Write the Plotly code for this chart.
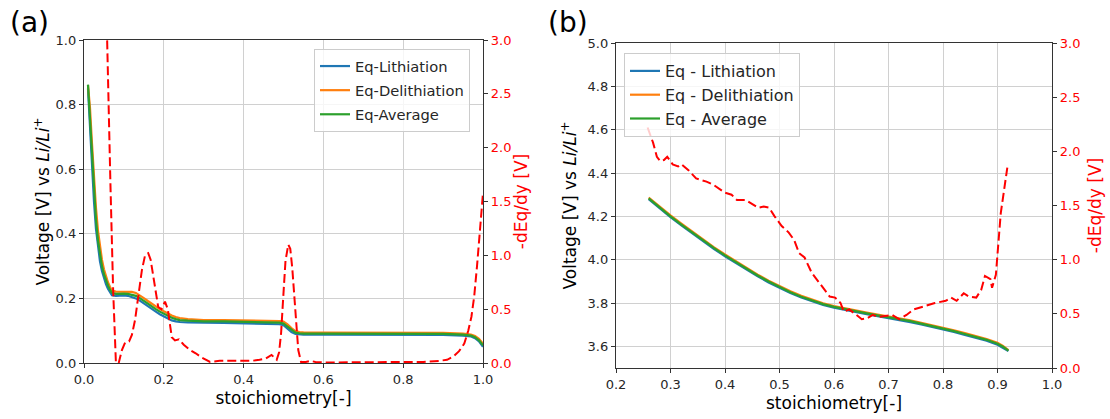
import plotly.graph_objects as go

# ---------------- Panel (a) data ----------------
x_a = [0.010, 0.015, 0.020, 0.025, 0.030, 0.035, 0.040, 0.045, 0.050, 0.055, 0.060, 0.065, 0.070,
       0.08, 0.09, 0.10, 0.11, 0.12, 0.13, 0.14, 0.15, 0.16, 0.17, 0.18, 0.19, 0.20, 0.21, 0.22, 0.23, 0.24,
       0.26, 0.28, 0.30, 0.35, 0.40, 0.45, 0.48, 0.49,
       0.50, 0.51, 0.52, 0.53, 0.54, 0.55, 0.60, 0.70, 0.80, 0.90,
       0.95, 0.97, 0.98, 0.99, 1.00]
lith_a = [0.850, 0.730, 0.600, 0.500, 0.415, 0.355, 0.315, 0.285, 0.262, 0.244, 0.230, 0.219, 0.210,
          0.208, 0.209, 0.209, 0.208, 0.205, 0.200, 0.193, 0.184, 0.175, 0.167, 0.159, 0.151, 0.144, 0.138, 0.132, 0.129, 0.127,
          0.126, 0.125, 0.125, 0.124, 0.123, 0.122, 0.121, 0.120,
          0.117, 0.106, 0.096, 0.090, 0.088, 0.088, 0.088, 0.088, 0.088, 0.087,
          0.085, 0.082, 0.077, 0.067, 0.050]
delith_a = [0.860, 0.790, 0.680, 0.570, 0.480, 0.410, 0.360, 0.320, 0.290, 0.267, 0.250, 0.236, 0.224,
            0.221, 0.221, 0.221, 0.221, 0.220, 0.217, 0.210, 0.201, 0.192, 0.183, 0.175, 0.167, 0.160, 0.153, 0.147, 0.142, 0.139,
            0.136, 0.134, 0.133, 0.133, 0.132, 0.131, 0.131, 0.130,
            0.128, 0.120, 0.108, 0.099, 0.096, 0.095, 0.094, 0.094, 0.094, 0.093,
            0.091, 0.088, 0.084, 0.075, 0.060]
avg_a = [0.862, 0.760, 0.640, 0.530, 0.445, 0.380, 0.335, 0.300, 0.275, 0.255, 0.240, 0.227, 0.217,
         0.214, 0.215, 0.215, 0.214, 0.212, 0.208, 0.201, 0.192, 0.183, 0.175, 0.167, 0.159, 0.152, 0.146, 0.140, 0.136, 0.133,
         0.131, 0.130, 0.129, 0.129, 0.128, 0.127, 0.126, 0.125,
         0.122, 0.113, 0.102, 0.094, 0.092, 0.091, 0.091, 0.091, 0.091, 0.090,
         0.088, 0.085, 0.080, 0.070, 0.055]

xd_a = [0.052, 0.058, 0.066, 0.073, 0.080, 0.087, 0.095, 0.103, 0.113, 0.120, 0.128, 0.137, 0.145, 0.153, 0.161,
        0.167, 0.172, 0.178, 0.186, 0.194, 0.203, 0.210, 0.215, 0.220, 0.228, 0.238, 0.250, 0.266, 0.280, 0.295,
        0.316, 0.34, 0.38, 0.42, 0.44, 0.455, 0.470, 0.483, 0.489, 0.494, 0.499, 0.505, 0.512, 0.517, 0.522,
        0.527, 0.532, 0.537, 0.544, 0.556, 0.567, 0.58, 0.60, 0.70, 0.80, 0.85, 0.89, 0.91, 0.926, 0.940,
        0.953, 0.963, 0.971, 0.978, 0.985, 0.992, 1.000]
d_a = [3.60, 3.00, 1.70, 0.68, 0.00, 0.00, 0.12, 0.19, 0.20, 0.26, 0.40, 0.65, 0.86, 1.00, 1.02,
       0.96, 0.85, 0.70, 0.52, 0.50, 0.57, 0.50, 0.36, 0.24, 0.21, 0.22, 0.17, 0.12, 0.09, 0.05,
       0.01, 0.02, 0.02, 0.02, 0.03, 0.04, 0.075, 0.03, 0.10, 0.28, 0.59, 0.95, 1.10, 1.06, 0.88,
       0.60, 0.32, 0.12, 0.01, 0.01, 0.02, 0.01, 0.005, 0.005, 0.005, 0.01, 0.02, 0.03, 0.06, 0.11,
       0.18, 0.30, 0.43, 0.62, 0.90, 1.20, 1.58]

# ---------------- Panel (b) data ----------------
x_b = [0.26, 0.28, 0.30, 0.32, 0.34, 0.36, 0.38, 0.40, 0.42, 0.44, 0.46, 0.48, 0.50, 0.52, 0.54, 0.56, 0.58,
       0.60, 0.62, 0.64, 0.66, 0.68, 0.70, 0.72, 0.74, 0.76, 0.78, 0.80, 0.82, 0.84, 0.86, 0.88, 0.90, 0.91, 0.92]
lith_b = [4.279, 4.236, 4.196, 4.158, 4.121, 4.084, 4.049, 4.016, 3.984, 3.953, 3.923, 3.895, 3.869, 3.846, 3.825,
          3.807, 3.791, 3.778, 3.767, 3.757, 3.748, 3.739, 3.731, 3.722, 3.712, 3.701, 3.690, 3.678, 3.666, 3.653,
          3.640, 3.626, 3.607, 3.594, 3.578]
delith_b = [4.287, 4.244, 4.204, 4.166, 4.129, 4.092, 4.057, 4.024, 3.992, 3.961, 3.931, 3.903, 3.877, 3.854, 3.833,
            3.815, 3.799, 3.786, 3.775, 3.765, 3.756, 3.747, 3.739, 3.730, 3.720, 3.709, 3.698, 3.686, 3.674, 3.661,
            3.648, 3.634, 3.617, 3.602, 3.582]
avg_b = [4.283, 4.240, 4.200, 4.162, 4.125, 4.088, 4.053, 4.020, 3.988, 3.957, 3.927, 3.899, 3.873, 3.850, 3.829,
         3.811, 3.795, 3.782, 3.771, 3.761, 3.752, 3.743, 3.735, 3.726, 3.716, 3.705, 3.694, 3.682, 3.670, 3.657,
         3.644, 3.630, 3.612, 3.598, 3.580]

xd_b = [0.258, 0.268, 0.275, 0.281, 0.288, 0.294, 0.304, 0.314, 0.320, 0.334, 0.347, 0.366, 0.379, 0.399, 0.412,
        0.422, 0.438, 0.448, 0.461, 0.471, 0.481, 0.491, 0.504, 0.517, 0.527, 0.536, 0.546, 0.559, 0.576, 0.592,
        0.602, 0.612, 0.618, 0.628, 0.641, 0.651, 0.661, 0.671, 0.681, 0.697, 0.707, 0.720, 0.733, 0.746, 0.766,
        0.785, 0.805, 0.815, 0.825, 0.838, 0.847, 0.861, 0.870, 0.877, 0.887, 0.890, 0.897, 0.906, 0.918]
d_b = [2.22, 2.08, 1.95, 1.91, 1.92, 1.95, 1.88, 1.86, 1.88, 1.82, 1.75, 1.72, 1.69, 1.62, 1.60,
       1.55, 1.55, 1.52, 1.48, 1.49, 1.48, 1.40, 1.31, 1.25, 1.18, 1.06, 1.02, 0.88, 0.77, 0.66,
       0.65, 0.60, 0.52, 0.54, 0.49, 0.45, 0.46, 0.49, 0.47, 0.48, 0.49, 0.45, 0.49, 0.54, 0.57,
       0.60, 0.62, 0.65, 0.62, 0.69, 0.66, 0.65, 0.72, 0.85, 0.82, 0.74, 0.86, 1.43, 1.85]

# ---------------- styling ----------------
BLUE, ORANGE, GREEN, RED = "#1f77b4", "#ff7f0e", "#2ca02c", "#ff0000"
FONT = "DejaVu Sans"
TICKC = "#262626"
SPINE = "#333333"
GRIDC = "#d0d0d0"
W, H = 1110, 419

def dom_x(a, b):
    return [a / W, b / W]

def dom_y(top, bottom):
    return [(H - bottom) / H, (H - top) / H]

fig = go.Figure()

def vline(x, y, name, color, xa, ya, leg):
    fig.add_trace(go.Scatter(x=x, y=y, name=name, mode="lines",
                             line=dict(color=color, width=2.2),
                             xaxis=xa, yaxis=ya, legend=leg, legendgroup=leg + name))

vline(x_a, lith_a, "Eq-Lithiation", BLUE, "x", "y", "legend")
vline(x_a, delith_a, "Eq-Delithiation", ORANGE, "x", "y", "legend")
vline(x_a, avg_a, "Eq-Average", GREEN, "x", "y", "legend")
fig.add_trace(go.Scatter(x=xd_a, y=d_a, mode="lines", showlegend=False,
                         line=dict(color=RED, width=2, dash="9px,4px"), xaxis="x", yaxis="y2"))

vline(x_b, lith_b, "Eq - Lithiation", BLUE, "x2", "y3", "legend2")
vline(x_b, delith_b, "Eq - Delithiation", ORANGE, "x2", "y3", "legend2")
vline(x_b, avg_b, "Eq - Average", GREEN, "x2", "y3", "legend2")
fig.add_trace(go.Scatter(x=xd_b, y=d_b, mode="lines", showlegend=False,
                         line=dict(color=RED, width=2, dash="9px,4px"), xaxis="x2", yaxis="y4"))

tickfont = dict(family=FONT, size=13, color=TICKC)
redfont = dict(family=FONT, size=13, color=RED)
titlefont = dict(family=FONT, size=17, color="#000000")
redtitle = dict(family=FONT, size=17, color=RED)

common_x = dict(showgrid=True, gridcolor=GRIDC, gridwidth=1.3, showline=True, linecolor=SPINE, linewidth=1.3,
                mirror=True, ticks="outside", ticklen=4, tickcolor=SPINE, zeroline=False,
                tickfont=tickfont, automargin=False, tickformat=".1f")
common_y = dict(showgrid=True, gridcolor=GRIDC, gridwidth=1.3, showline=True, linecolor=SPINE, linewidth=1.3,
                ticks="outside", ticklen=4, tickcolor=SPINE, zeroline=False,
                tickfont=tickfont, automargin=False, tickformat=".1f")
common_r = dict(showgrid=False, showline=True, linecolor=SPINE, linewidth=1.3, side="right",
                ticks="outside", ticklen=4, tickcolor=SPINE, zeroline=False,
                tickfont=redfont, automargin=False, tickformat=".1f", range=[0, 3], dtick=0.5, tick0=0)

ylab = "Voltage [V] vs <i>Li/Li</i><sup>+</sup>"

fig.update_layout(
    width=W, height=H, margin=dict(l=0, r=0, t=0, b=0),
    paper_bgcolor="white", plot_bgcolor="white",
    font=dict(family=FONT, color=TICKC),
    xaxis=dict(common_x, domain=dom_x(84, 483), anchor="y", range=[0, 1], dtick=0.2, tick0=0,
               title=dict(text="stoichiometry[-]", font=titlefont, standoff=6)),
    yaxis=dict(common_y, domain=dom_y(40, 363), anchor="x", range=[0, 1], dtick=0.2, tick0=0,
               title=dict(text=ylab, font=titlefont, standoff=1)),
    yaxis2=dict(common_r, overlaying="y", anchor="x",
                title=dict(text="-dEq/dy [V]", font=redtitle, standoff=4)),
    xaxis2=dict(common_x, domain=dom_x(616, 1052), anchor="y3", range=[0.2, 1.0], dtick=0.1, tick0=0.2,
                title=dict(text="stoichiometry[-]", font=titlefont, standoff=6)),
    yaxis3=dict(common_y, domain=dom_y(43, 368), anchor="x2", range=[3.5, 5.0],
                tickvals=[3.6, 3.8, 4.0, 4.2, 4.4, 4.6, 4.8, 5.0],
                title=dict(text=ylab, font=titlefont, standoff=6)),
    yaxis4=dict(common_r, overlaying="y3", anchor="x2",
                title=dict(text="-dEq/dy [V]", font=redtitle, standoff=9)),
    legend=dict(x=314 / W, y=1 - 49 / H, xanchor="left", yanchor="top",
                bgcolor="rgba(255,255,255,0.8)", bordercolor="#cccccc", borderwidth=1,
                font=dict(family=FONT, size=14.7, color=TICKC), itemwidth=30, tracegroupgap=2),
    legend2=dict(x=624 / W, y=1 - 53 / H, xanchor="left", yanchor="top",
                 bgcolor="rgba(255,255,255,0.8)", bordercolor="#cccccc", borderwidth=1,
                 font=dict(family=FONT, size=16, color=TICKC), itemwidth=30, tracegroupgap=0),
    annotations=[
        dict(text="(a)", x=8 / W, y=1 - 4 / H, xref="paper", yref="paper", xanchor="left", yanchor="top",
             showarrow=False, font=dict(family=FONT, size=28, color="#000000")),
        dict(text="(b)", x=546 / W, y=1 - 4 / H, xref="paper", yref="paper", xanchor="left", yanchor="top",
             showarrow=False, font=dict(family=FONT, size=28, color="#000000")),
    ],
)

fig.write_html("out.html", config={"displayModeBar": False},
               post_script="document.body.style.margin='0px';document.body.style.overflow='hidden';")
